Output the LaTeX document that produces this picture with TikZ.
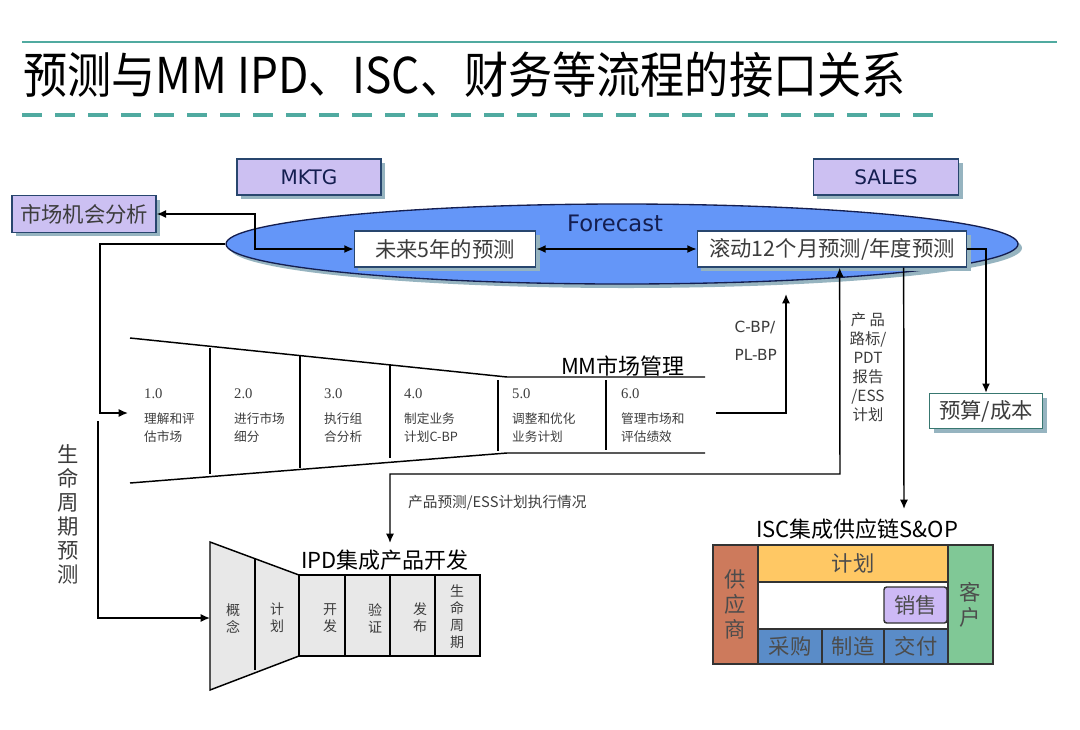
\documentclass[tikz,border=0pt]{standalone}
\usepackage{fontspec}
\setmainfont{Noto Sans CJK SC}
\newfontfamily\verd{DejaVu Sans}
\newfontfamily\numfont{Liberation Serif}
\newfontfamily\titlecjk[FakeStretch=0.895]{Noto Sans CJK SC}
\usetikzlibrary{
    arrows.meta,
    calc,
    shapes.geometric,
    shadows
}

\definecolor{tealline}{RGB}{80,170,160}
\definecolor{lav}{RGB}{204,192,242}
\definecolor{boxline}{RGB}{40,70,110}
\definecolor{fcblue}{RGB}{100,150,248}
\definecolor{shade}{RGB}{150,180,192}
\definecolor{navy}{RGB}{20,30,80}
\definecolor{planc}{RGB}{255,200,100}
\definecolor{suppc}{RGB}{205,122,92}
\definecolor{custc}{RGB}{128,200,150}
\definecolor{procc}{RGB}{90,140,200}
\definecolor{salec}{RGB}{205,185,245}
\definecolor{ipdgray}{RGB}{232,232,232}
\definecolor{txtgray}{RGB}{60,60,60}

\newcommand\boxfont{\fontsize{16}{19}\selectfont}
\newcommand\headfont{\fontsize{16.5}{19}\selectfont}
\newcommand\smallfont{\fontsize{9.5}{13.5}\selectfont}

\tikzset{
    lavbox/.style={draw=boxline, fill=lav, line width=1pt, inner sep=0pt,
        drop shadow={shadow xshift=3pt, shadow yshift=-3pt, fill=shade, opacity=1}},
    whitebox/.style={draw=boxline, fill=white, line width=1pt, inner sep=0pt,
        font=\boxfont, text=txtgray, minimum height=27pt,
        drop shadow={shadow xshift=3pt, shadow yshift=-3pt, fill=shade, opacity=1}},
    iscbox/.style={draw=black!80, line width=1.1pt, inner sep=0pt, font=\boxfont,
        text=black!70, align=center},
    colnum/.style={anchor=west, font=\numfont\fontsize{11}{13}\selectfont, text=txtgray},
    coltext/.style={anchor=west, align=left, font=\smallfont, text=txtgray},
    ipdtext/.style={align=center, font=\fontsize{10.5}{12.75}\selectfont, text=txtgray}
}

\begin{document}
\begin{tikzpicture}[x=0.75pt, y=-0.75pt, line width=1.1pt, >={Latex[length=7pt,width=6pt]}]
\useasboundingbox (0,0) rectangle (1080,729);

% Title
\draw[tealline, line width=1.5pt] (22,42) -- (1057,42);
\node[anchor=west, font=\titlecjk\fontsize{37}{42}\selectfont] (title) at (18,75)
    {预测与MM IPD、ISC、财务等流程的接口关系};
\draw[tealline, line width=3pt, dash pattern=on 15pt off 9.75pt] (22,115) -- (942,115);

% Forecast
\node[ellipse, draw=navy, fill=fcblue, line width=1pt, minimum width=594pt, minimum height=60pt,
    drop shadow={shadow xshift=3pt, shadow yshift=-3pt, fill=shade, opacity=1}] (fc) at (622,244) {};
\node[font=\verd\fontsize{17}{20}\selectfont, text=navy] (fctxt) at (615,223) {Forecast};
\node[whitebox, minimum width=136pt] (five) at (445,249) {未来5年的预测};
\node[whitebox, minimum width=202pt] (roll) at (832,249) {滚动12个月预测/年度预测};

% Boxes on top
\node[lavbox, minimum width=108pt, minimum height=27pt, font=\verd\fontsize{15}{18}\selectfont,
    text=navy] (mktg) at (309,177) {MKTG};
\node[lavbox, minimum width=109pt, minimum height=27pt, font=\verd\fontsize{15}{18}\selectfont,
    text=navy] (sales) at (886,177) {SALES};
\node[lavbox, minimum width=108pt, minimum height=27.5pt, font=\boxfont,
    text=txtgray] (oppty) at (84,214) {市场机会分析};
\node[whitebox, draw=tealline!70!black, minimum width=84.75pt, minimum height=26.25pt] (budget)
    at (986,411) {预算/成本};

% MM funnel
\draw (130,338) -- (507,377) -- (705,377);
\draw (130,483) -- (507,453) -- (705,453);
\draw (210,348) -- (210,474);
\draw (300,356) -- (300,468);
\draw (390,365) -- (390,458);
\draw (498,380) -- (498,451);
\draw (606,380) -- (606,450);
\node[anchor=base east, font=\headfont] (mmt) at (690,374) {MM市场管理};

\node[colnum] (n1) at (139,394) {1.0};
\node[colnum] (n2) at (229,394) {2.0};
\node[colnum] (n3) at (319,394) {3.0};
\node[colnum] (n4) at (399,394) {4.0};
\node[colnum] (n5) at (507,394) {5.0};
\node[colnum] (n6) at (616,394) {6.0};
\node[coltext] (t1) at (139,428) {理解和评\\估市场};
\node[coltext] (t2) at (229,428) {进行市场\\细分};
\node[coltext] (t3) at (319,428) {执行组\\合分析};
\node[coltext] (t4) at (399,428) {制定业务\\计划C-BP};
\node[coltext] (t5) at (507,428) {调整和优化\\业务计划};
\node[coltext] (t6) at (616,428) {管理市场和\\评估绩效};

% IPD funnel
\draw[fill=ipdgray] (210,542) -- (299,575) -- (299,656) -- (210,690) -- cycle;
\draw (255,559) -- (255,670);
\draw[fill=ipdgray] (299,575) rectangle (345,656) (345,575) rectangle (390,656)
    (390,575) rectangle (435,656) (435,575) rectangle (480,656);
\node[anchor=base, font=\headfont] (ipdt) at (385,568) {IPD集成产品开发};
\node[ipdtext] (p1) at (233,618) {概\\念};
\node[ipdtext] (p2) at (277,618) {计\\划};
\node[ipdtext] (p3) at (330,618) {开\\发};
\node[ipdtext] (p4) at (375,618) {验\\证};
\node[ipdtext] (p5) at (420,618) {发\\布};
\node[ipdtext] (p6) at (457,617) {生\\命\\周\\期};

% ISC block
\node[anchor=base, font=\headfont] (isct) at (857,537) {ISC集成供应链S\&OP};
\draw[fill=white, line width=1.1pt] (713,545) rectangle (993,664);
\node[iscbox, fill=suppc, minimum width=33.75pt, minimum height=89.25pt,
    font=\fontsize{16}{18.75}\selectfont] (supp) at (735.5,604.5) {供\\应\\商};
\node[iscbox, fill=custc, minimum width=33.75pt, minimum height=89.25pt,
    font=\fontsize{16}{18.75}\selectfont] (cust) at (970.5,604.5) {客\\户};
\node[iscbox, fill=planc, minimum width=142.5pt, minimum height=27.75pt] (plan) at (853,563.5) {计划};
\node[iscbox, fill=salec, rounded corners=2pt, minimum width=47.25pt, minimum height=27pt] (sale)
    at (915.5,605) {销售};
\node[iscbox, fill=procc, minimum width=48pt, minimum height=26.25pt] (buy) at (790,646.5) {采购};
\node[iscbox, fill=procc, minimum width=46.5pt, minimum height=26.25pt] (make) at (853,646.5) {制造};
\node[iscbox, fill=procc, minimum width=48pt, minimum height=26.25pt] (ship) at (916,646.5) {交付};

% Free ends
\coordinate (mmin) at (128,413);
\coordinate (lctop) at (98,421);
\coordinate (ipdin) at (210,618);
\coordinate (mmout) at (716,413);
\coordinate (cbp) at (786,294);
\coordinate (ipdtop) at (390,543);
\coordinate (isctop) at (904,509);

% Connectors
\draw[<->] (oppty.east) -- (255,214) |- (five.west);
\draw[<->] (five.east) -- (roll.west);
\draw[->] (fc.west) -- (100,244) -- (100,413) -- (mmin);
\draw[->] (lctop) |- (ipdin);
\draw[->] (mmout) -| (cbp);
\draw[<->] ($(roll.south west)+(143,0)$) -- (840,474) -| (ipdtop);
\draw[->] ($(roll.south west)+(207,0)$) -- (isctop);
\draw[->] (roll.east) -| (budget.north);

% Labels
\node[font=\fontsize{16}{18}\selectfont, align=center, text=txtgray] (lclabel) at (68,514)
    {生\\命\\周\\期\\预\\测};
\node[font=\verd\fontsize{11.5}{21}\selectfont, align=left, anchor=east, text=txtgray] (cbplabel)
    at (782,341) {C-BP/\\PL-BP};
\node[font=\fontsize{11.5}{14.25}\selectfont, align=center, text=txtgray] (roadmap) at (868,367)
    {产\ 品\\路标/\\PDT\\报告\\/ESS\\计划};
\node[anchor=west, font=\fontsize{11}{13}\selectfont, text=txtgray] (ipdlabel) at (403,503)
    {产品预测/ESS计划执行情况};

\end{tikzpicture}
\end{document}
